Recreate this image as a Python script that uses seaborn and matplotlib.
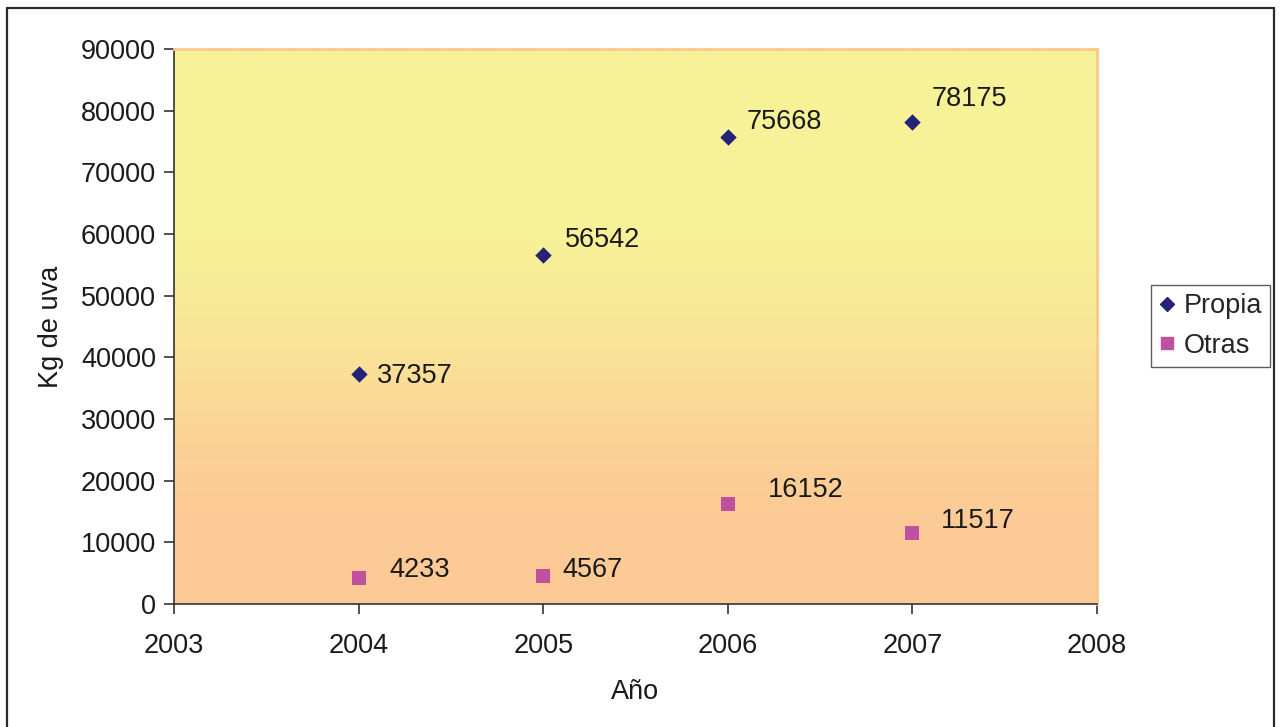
import numpy as np
import pandas as pd
import matplotlib
matplotlib.use("Agg")
import matplotlib.pyplot as plt
from matplotlib.lines import Line2D
import seaborn as sns

# Harvest data (kg of grapes per year)
years = [2004, 2005, 2006, 2007]
propia = [37357, 56542, 75668, 78175]
otras = [4233, 4567, 16152, 11517]
series_names = ["Propia", "Otras"]
x_ticks = [2003, 2004, 2005, 2006, 2007, 2008]
y_ticks = list(range(0, 90001, 10000))

# Label placement (pixel offsets from each point)
offsets_propia = [(18, -2), (22, 15), (19, 15), (19, 23)]
offsets_otras = [(31, 8), (19, 6), (40, 14), (28, 12)]

FS = 19.5

sns.set_theme(style="white")
plt.rcParams["font.family"] = ["Liberation Sans", "DejaVu Sans"]

df = pd.DataFrame({
    "Año": years * 2,
    "Kg": propia + otras,
    "Serie": [series_names[0]] * len(years) + [series_names[1]] * len(years),
})

W, H = 1283, 727
fig = plt.figure(figsize=(W / 100, H / 100), dpi=100)
ax = fig.add_axes([174 / W, 1 - 604 / H, 923 / W, 555 / H])

# Vertical gradient background: yellow on top, fading to peach lower down
top = np.array([247, 242, 152]) / 255
bottom = np.array([253, 202, 150]) / 255
t = np.linspace(0, 1, 512)
s = np.clip((t - 0.28) / 0.62, 0, 1)
s = s * s * (3 - 2 * s)
grad = (top[None, :] * (1 - s[:, None]) + bottom[None, :] * s[:, None])[:, None, :]
grad = np.repeat(grad, 2, axis=1)
ax.imshow(grad, extent=[0, 1, 0, 1], transform=ax.transAxes,
          aspect="auto", zorder=0, interpolation="bilinear")

colors = {"Propia": "#232378", "Otras": "#C050A0"}
markers = {"Propia": "D", "Otras": "s"}
sizes = {"Propia": 70, "Otras": 90}
for name in series_names:
    sub = df[df["Serie"] == name]
    sns.scatterplot(data=sub, x="Año", y="Kg", ax=ax, color=colors[name],
                    marker=markers[name], s=sizes[name], linewidth=0,
                    zorder=3, legend=False)

for yr, v, off in zip(years, propia, offsets_propia):
    ax.annotate(str(v), (yr, v), xytext=off, textcoords="offset pixels",
                ha="left", va="center", fontsize=FS, color="#1a1a1a", zorder=4)
for yr, v, off in zip(years, otras, offsets_otras):
    ax.annotate(str(v), (yr, v), xytext=off, textcoords="offset pixels",
                ha="left", va="center", fontsize=FS, color="#1a1a1a", zorder=4)

ax.set_xlim(2003, 2008)
ax.set_ylim(0, 90000)
ax.set_xticks(x_ticks)
ax.set_yticks(y_ticks)
ax.set_xticklabels([str(v) for v in x_ticks])
ax.set_yticklabels([str(v) for v in y_ticks])
ax.tick_params(axis="both", which="both", direction="out", length=7,
               width=1.2, color="#333333", labelsize=FS, labelcolor="#1a1a1a",
               bottom=True, left=True)
ax.tick_params(axis="x", pad=14)
ax.tick_params(axis="y", pad=6)
ax.set_xlabel("Año", fontsize=FS, color="#1a1a1a", labelpad=14)
ax.set_ylabel("Kg de uva", fontsize=FS, color="#1a1a1a", labelpad=12)

for side in ["left", "bottom"]:
    ax.spines[side].set_color("#333333")
    ax.spines[side].set_linewidth(1.2)
for side in ["top", "right"]:
    ax.spines[side].set_color("#FFC88A")
    ax.spines[side].set_linewidth(2)
ax.grid(False)

handles = [
    Line2D([], [], linestyle="none", marker="D", color=colors["Propia"],
           markersize=7.5, label="Propia"),
    Line2D([], [], linestyle="none", marker="s", color=colors["Otras"],
           markersize=8.5, label="Otras"),
]
leg = fig.legend(handles=handles, loc="center left",
                 bbox_to_anchor=(1151 / W, 1 - 326 / H), fontsize=FS,
                 frameon=True, fancybox=False, handlelength=0.6,
                 handletextpad=0.3, borderpad=0.3, labelspacing=0.5,
                 borderaxespad=0)
leg.get_frame().set_edgecolor("#333333")
leg.get_frame().set_linewidth(1.0)

# Chart frame (left, top and right edges)
lx, rx, ty = 7 / W, 1274 / W, 1 - 8 / H
for xs, ys in [([lx, lx], [0, ty]), ([lx, rx], [ty, ty]), ([rx, rx], [ty, 0])]:
    fig.add_artist(Line2D(xs, ys, transform=fig.transFigure,
                          color="#2a2a2a", linewidth=1.6))

fig.savefig("out.png", dpi=100)
